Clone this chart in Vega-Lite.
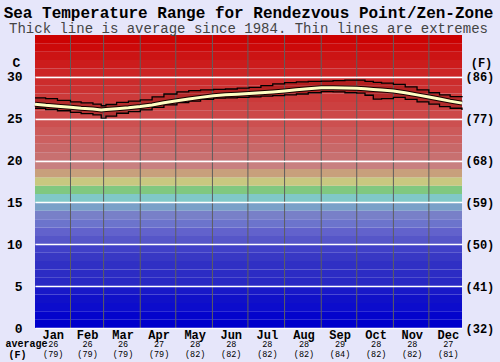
{
  "$schema": "https://vega.github.io/schema/vega-lite/v6.json",
  "width": 427,
  "height": 293,
  "autosize": "none",
  "padding": {"left": 35, "top": 35, "right": 38, "bottom": 34},
  "background": "#e6e6fa",
  "title": {
    "text": "Sea Temperature Range for Rendezvous Point/Zen-Zone",
    "subtitle": "Thick line is average since 1984. Thin lines are extremes",
    "anchor": "middle",
    "frame": "group",
    "font": "Liberation Mono",
    "fontSize": 16,
    "fontWeight": "bold",
    "color": "#000000",
    "subtitleFont": "Liberation Mono",
    "subtitleFontSize": 14,
    "subtitleColor": "#444444",
    "subtitlePadding": 1,
    "offset": -1
  },
  "datasets": {
    "bands": [
      {"lo": 0, "hi": 1}, {"lo": 1, "hi": 2}, {"lo": 2, "hi": 3}, {"lo": 3, "hi": 4}, {"lo": 4, "hi": 5},
      {"lo": 5, "hi": 6}, {"lo": 6, "hi": 7}, {"lo": 7, "hi": 8}, {"lo": 8, "hi": 9}, {"lo": 9, "hi": 10},
      {"lo": 10, "hi": 11}, {"lo": 11, "hi": 12}, {"lo": 12, "hi": 13}, {"lo": 13, "hi": 14}, {"lo": 14, "hi": 15},
      {"lo": 15, "hi": 16}, {"lo": 16, "hi": 17}, {"lo": 17, "hi": 18}, {"lo": 18, "hi": 19}, {"lo": 19, "hi": 20},
      {"lo": 20, "hi": 21}, {"lo": 21, "hi": 22}, {"lo": 22, "hi": 23}, {"lo": 23, "hi": 24}, {"lo": 24, "hi": 25},
      {"lo": 25, "hi": 26}, {"lo": 26, "hi": 27}, {"lo": 27, "hi": 28}, {"lo": 28, "hi": 29}, {"lo": 29, "hi": 30},
      {"lo": 30, "hi": 31}, {"lo": 31, "hi": 32}, {"lo": 32, "hi": 33}, {"lo": 33, "hi": 34}, {"lo": 34, "hi": 35}
    ],
    "months": [
      {"day": 31}, {"day": 59}, {"day": 90}, {"day": 120}, {"day": 151}, {"day": 181},
      {"day": 212}, {"day": 243}, {"day": 273}, {"day": 304}, {"day": 334}
    ],
    "temps": [
      {"day": 1, "hi": 27.5, "avg": 26.72, "lo": 26.25},
      {"day": 10, "hi": 27.4, "avg": 26.6, "lo": 26.1},
      {"day": 20, "hi": 27.2, "avg": 26.5, "lo": 25.95},
      {"day": 31, "hi": 27.0, "avg": 26.38, "lo": 25.75},
      {"day": 40, "hi": 26.9, "avg": 26.25, "lo": 25.6},
      {"day": 50, "hi": 26.75, "avg": 26.15, "lo": 25.45},
      {"day": 57, "hi": 26.55, "avg": 26.05, "lo": 25.05},
      {"day": 61, "hi": 26.7, "avg": 26.1, "lo": 25.3},
      {"day": 70, "hi": 26.95, "avg": 26.2, "lo": 25.65},
      {"day": 80, "hi": 27.1, "avg": 26.3, "lo": 25.85},
      {"day": 90, "hi": 27.25, "avg": 26.45, "lo": 26.05},
      {"day": 100, "hi": 27.6, "avg": 26.65, "lo": 26.35},
      {"day": 110, "hi": 27.95, "avg": 26.9, "lo": 26.65},
      {"day": 121, "hi": 28.2, "avg": 27.15, "lo": 26.93},
      {"day": 131, "hi": 28.35, "avg": 27.35, "lo": 27.1},
      {"day": 141, "hi": 28.45, "avg": 27.55, "lo": 27.3},
      {"day": 152, "hi": 28.5, "avg": 27.75, "lo": 27.45},
      {"day": 162, "hi": 28.55, "avg": 27.85, "lo": 27.5},
      {"day": 172, "hi": 28.65, "avg": 27.93, "lo": 27.55},
      {"day": 182, "hi": 28.75, "avg": 28.0, "lo": 27.6},
      {"day": 192, "hi": 28.95, "avg": 28.1, "lo": 27.7},
      {"day": 202, "hi": 29.15, "avg": 28.2, "lo": 27.75},
      {"day": 212, "hi": 29.3, "avg": 28.32, "lo": 27.85},
      {"day": 222, "hi": 29.4, "avg": 28.45, "lo": 27.95},
      {"day": 232, "hi": 29.45, "avg": 28.58, "lo": 28.1},
      {"day": 243, "hi": 29.5, "avg": 28.7, "lo": 28.23},
      {"day": 253, "hi": 29.55, "avg": 28.7, "lo": 28.2},
      {"day": 263, "hi": 29.6, "avg": 28.68, "lo": 28.1},
      {"day": 273, "hi": 29.6, "avg": 28.63, "lo": 28.05},
      {"day": 280, "hi": 29.45, "avg": 28.58, "lo": 27.8},
      {"day": 287, "hi": 29.35, "avg": 28.5, "lo": 27.35},
      {"day": 294, "hi": 29.25, "avg": 28.42, "lo": 27.4},
      {"day": 304, "hi": 29.1, "avg": 28.3, "lo": 27.55},
      {"day": 314, "hi": 28.8, "avg": 28.1, "lo": 27.3},
      {"day": 324, "hi": 28.45, "avg": 27.85, "lo": 27.0},
      {"day": 334, "hi": 28.1, "avg": 27.6, "lo": 26.75},
      {"day": 343, "hi": 27.85, "avg": 27.35, "lo": 26.45},
      {"day": 352, "hi": 27.65, "avg": 27.1, "lo": 26.25},
      {"day": 362, "hi": 27.55, "avg": 26.86, "lo": 26.05}
    ]
  },
  "layer": [
    {
      "data": {"name": "bands"},
      "mark": {"type": "rect"},
      "encoding": {
        "x": {"datum": 1, "type": "quantitative", "scale": {"domain": [1, 362], "nice": false, "zero": false}, "axis": null},
        "x2": {"datum": 362},
        "y": {
          "field": "lo", "type": "quantitative",
          "scale": {"domain": [0, 35], "nice": false, "zero": true},
          "axis": {
            "orient": "left", "values": [0, 5, 10, 15, 20, 25, 30],
            "grid": true, "gridColor": "#ffffff", "gridWidth": 1.5, "gridOpacity": 1,
            "ticks": false, "domain": false, "zindex": 1,
            "labelFont": "Liberation Mono", "labelFontSize": 13, "labelFontWeight": "bold",
            "labelColor": "#000000", "labelPadding": 13,
            "title": "C", "titleAngle": 0, "titleX": -19, "titleY": 27,
            "titleAlign": "center", "titleBaseline": "middle",
            "titleFont": "Liberation Mono", "titleFontSize": 13, "titleFontWeight": "bold", "titleColor": "#000000"
          }
        },
        "y2": {"field": "hi"},
        "color": {
          "field": "lo", "type": "ordinal", "legend": null,
          "scale": {
            "domain": [0,1,2,3,4,5,6,7,8,9,10,11,12,13,14,15,16,17,18,19,20,21,22,23,24,25,26,27,28,29,30,31,32,33,34],
            "range": [
              "#0000cc", "#0404cc", "#0c0ccc", "#1010c8", "#1818c8",
              "#2828c4", "#2c2cc4", "#3030c4", "#3838c4", "#4040c8",
              "#5656c8", "#6262cc", "#6c74cc", "#7880c8", "#7aa0c8",
              "#80c8c8", "#80c880", "#c8c880", "#c8a07c", "#c88080",
              "#c87070", "#c86868", "#cc6060", "#cc5a5a", "#cc5050",
              "#cc4848", "#cc4040", "#cc3a3a", "#cc3232", "#cc2c2c",
              "#cc2424", "#cc1c1c", "#cc1414", "#cc0a0a", "#cc0202"
            ]
          }
        }
      }
    },
    {
      "data": {"name": "temps"},
      "mark": {"type": "area", "interpolate": "step-after", "color": "#7a0000", "opacity": 0.3},
      "encoding": {
        "x": {"field": "day", "type": "quantitative", "axis": null},
        "y": {"field": "lo", "type": "quantitative", "axis": null},
        "y2": {"field": "hi"}
      }
    },
    {
      "data": {"name": "months"},
      "mark": {"type": "rule", "color": "#5e5e5e", "strokeWidth": 1},
      "encoding": {
        "x": {
          "field": "day", "type": "quantitative",
          "axis": {
            "orient": "bottom",
            "values": [16, 45, 75, 105.5, 136, 166.5, 197, 228, 258.5, 289, 319.5, 350],
            "labelExpr": "['Jan','Feb','Mar','Apr','May','Jun','Jul','Aug','Sep','Oct','Nov','Dec'][indexof([16, 45, 75, 105.5, 136, 166.5, 197, 228, 258.5, 289, 319.5, 350], datum.value)]",
            "ticks": false, "domain": false, "grid": false,
            "labelFont": "Liberation Mono", "labelFontSize": 12, "labelFontWeight": "bold",
            "labelColor": "#000000", "labelPadding": 1, "labelFlush": false, "labelOverlap": false,
            "title": null
          }
        }
      }
    },
    {
      "data": {"name": "temps"},
      "mark": {"type": "line", "interpolate": "step-after", "color": "#000000", "strokeWidth": 1.3},
      "encoding": {
        "x": {
          "field": "day", "type": "quantitative",
          "axis": {
            "orient": "bottom", "offset": 11,
            "values": [16, 45, 75, 105.5, 136, 166.5, 197, 228, 258.5, 289, 319.5, 350],
            "labelExpr": "['26','26','26','27','28','28','28','28','29','28','28','27'][indexof([16, 45, 75, 105.5, 136, 166.5, 197, 228, 258.5, 289, 319.5, 350], datum.value)]",
            "ticks": false, "domain": false, "grid": false,
            "labelFont": "Liberation Mono", "labelFontSize": 8.5,
            "labelColor": "#000000", "labelPadding": 0, "labelFlush": false, "labelOverlap": false,
            "title": "average", "titleX": -9, "titleY": -1,
            "titleAlign": "center", "titleBaseline": "top",
            "titleFont": "Liberation Mono", "titleFontSize": 10, "titleFontWeight": "bold", "titleColor": "#000000"
          }
        },
        "y": {
          "field": "hi", "type": "quantitative",
          "axis": {
            "orient": "right", "values": [0, 5, 10, 15, 20, 25, 30],
            "labelExpr": "'(' + format(datum.value * 1.8 + 32, 'd') + ')'",
            "ticks": false, "domain": false, "grid": false,
            "labelFont": "Liberation Mono", "labelFontSize": 12, "labelFontWeight": "bold",
            "labelColor": "#000000", "labelPadding": 3,
            "title": "(F)", "titleAngle": 0, "titleX": 19, "titleY": 27,
            "titleAlign": "center", "titleBaseline": "middle",
            "titleFont": "Liberation Mono", "titleFontSize": 12, "titleFontWeight": "bold", "titleColor": "#000000"
          }
        }
      }
    },
    {
      "data": {"name": "temps"},
      "mark": {"type": "line", "interpolate": "step-after", "color": "#000000", "strokeWidth": 1.3},
      "encoding": {
        "x": {
          "field": "day", "type": "quantitative",
          "axis": {
            "orient": "bottom", "offset": 21,
            "values": [16, 45, 75, 105.5, 136, 166.5, 197, 228, 258.5, 289, 319.5, 350],
            "labelExpr": "['(79)','(79)','(79)','(79)','(82)','(82)','(82)','(82)','(84)','(82)','(82)','(81)'][indexof([16, 45, 75, 105.5, 136, 166.5, 197, 228, 258.5, 289, 319.5, 350], datum.value)]",
            "ticks": false, "domain": false, "grid": false,
            "labelFont": "Liberation Mono", "labelFontSize": 8.5,
            "labelColor": "#000000", "labelPadding": 0, "labelFlush": false, "labelOverlap": false,
            "title": "(F)", "titleX": -18, "titleY": 0,
            "titleAlign": "center", "titleBaseline": "top",
            "titleFont": "Liberation Mono", "titleFontSize": 10, "titleFontWeight": "bold", "titleColor": "#000000"
          }
        },
        "y": {"field": "lo", "type": "quantitative", "axis": null}
      }
    },
    {
      "data": {"name": "temps"},
      "mark": {"type": "line", "color": "#1a0000", "strokeWidth": 5},
      "encoding": {
        "x": {"field": "day", "type": "quantitative", "axis": null},
        "y": {"field": "avg", "type": "quantitative", "axis": null}
      }
    },
    {
      "data": {"name": "temps"},
      "mark": {"type": "line", "color": "#ffffc4", "strokeWidth": 3},
      "encoding": {
        "x": {"field": "day", "type": "quantitative", "axis": null},
        "y": {"field": "avg", "type": "quantitative", "axis": null}
      }
    }
  ],
  "resolve": {"axis": {"x": "independent", "y": "independent"}},
  "config": {"view": {"stroke": null}, "font": "Liberation Mono"}
}
